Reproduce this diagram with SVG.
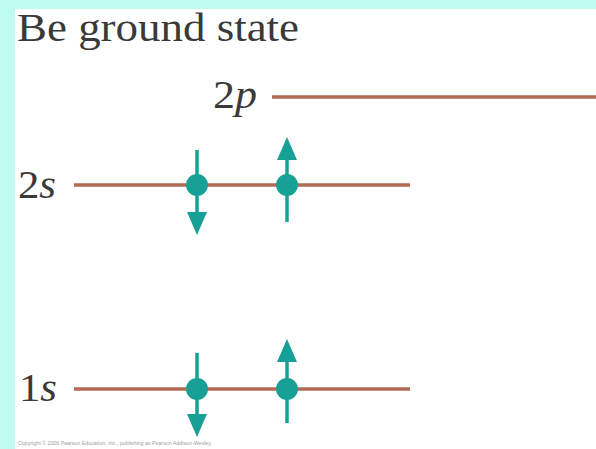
<svg xmlns="http://www.w3.org/2000/svg" width="596" height="449" viewBox="0 0 596 449">
<defs>
<style>
.t{font-family:"Liberation Serif","Times New Roman",serif;fill:#3a3a3a}
.lvl{stroke:#b36a52;stroke-width:3.5;fill:none}
.sp{stroke:#17a196;stroke-width:3.5;fill:none}
.dot{fill:#17a196}
.ah{fill:#17a196}
</style>
</defs>
<rect x="0" y="0" width="596" height="449" fill="#bdfcef"/>
<rect x="15" y="9" width="581" height="440" fill="#ffffff"/>
<text class="t" x="17" y="41" font-size="40" textLength="282" lengthAdjust="spacingAndGlyphs">Be ground state</text>
<g id="level-2p">
<text class="t" x="213" y="108" font-size="39" textLength="44" lengthAdjust="spacingAndGlyphs">2<tspan font-style="italic">p</tspan></text>
<line class="lvl" x1="272" y1="97" x2="596" y2="97"/>
</g>
<g id="level-2s">
<text class="t" x="18" y="198" font-size="39" textLength="38" lengthAdjust="spacingAndGlyphs">2<tspan font-style="italic">s</tspan></text>
<line class="lvl" x1="74" y1="185" x2="410" y2="185"/>
</g>
<g id="level-1s">
<text class="t" x="19" y="401" font-size="39" textLength="38" lengthAdjust="spacingAndGlyphs">1<tspan font-style="italic">s</tspan></text>
<line class="lvl" x1="74" y1="389" x2="410" y2="389"/>
</g>
<g id="e-2s-down">
<line class="sp" x1="197" y1="150" x2="197" y2="218"/>
<polygon class="ah" points="187,212 207,212 197,235"/>
<circle class="dot" cx="197" cy="185" r="11"/>
</g>
<g id="e-2s-up">
<line class="sp" x1="287" y1="222" x2="287" y2="154"/>
<polygon class="ah" points="277,160 297,160 287,137"/>
<circle class="dot" cx="287" cy="185" r="11"/>
</g>
<g id="e-1s-down">
<line class="sp" x1="197" y1="353" x2="197" y2="420"/>
<polygon class="ah" points="187,414 207,414 197,437"/>
<circle class="dot" cx="197" cy="389" r="11"/>
</g>
<g id="e-1s-up">
<line class="sp" x1="287" y1="423" x2="287" y2="356"/>
<polygon class="ah" points="277,362 297,362 287,339"/>
<circle class="dot" cx="287" cy="389" r="11"/>
</g>
<text x="18" y="445" font-family="Liberation Sans, Arial, sans-serif" font-size="4.5" fill="#a0a0a0" textLength="194" lengthAdjust="spacingAndGlyphs">Copyright © 2006 Pearson Education, Inc., publishing as Pearson Addison-Wesley.</text>
</svg>
